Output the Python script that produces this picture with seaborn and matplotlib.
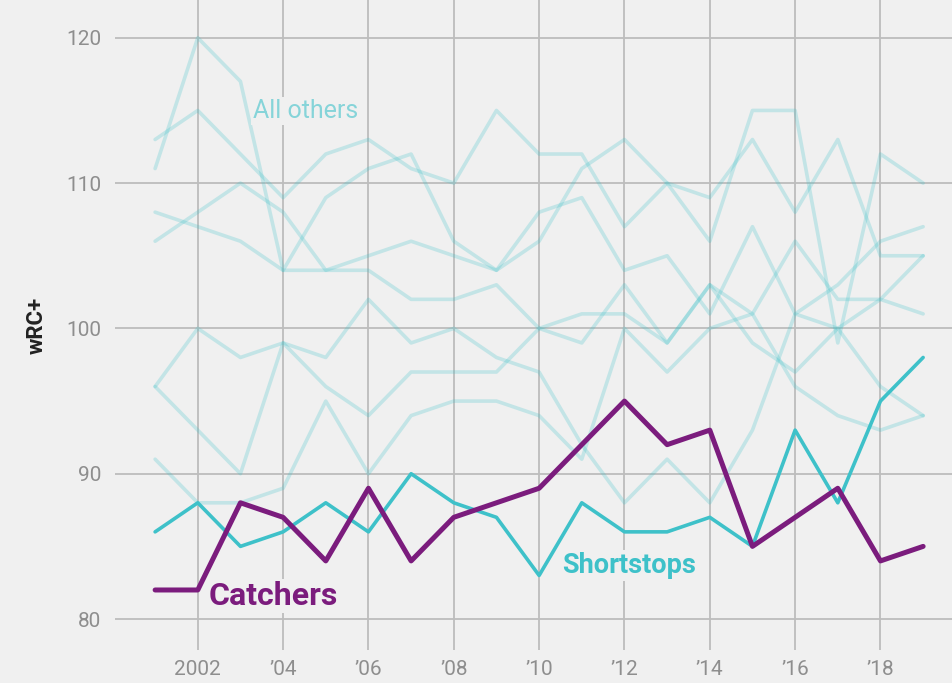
import numpy as np
import pandas as pd
import matplotlib
matplotlib.use("Agg")
import matplotlib.pyplot as plt
import seaborn as sns

# data ########################################################################
years = list(range(2001, 2020))

catchers = [82, 82, 88, 87, 84, 89, 84, 87, 88, 89, 92, 95, 92, 93, 85, 87, 89, 84, 85]
shortstops = [86, 88, 85, 86, 88, 86, 90, 88, 87, 83, 88, 86, 86, 87, 85, 93, 88, 95, 98]

# the other seven positions (faded)
other_1 = [111, 120, 117, 104, 109, 111, 112, 106, 104, 106, 111, 113, 110, 106, 115, 115, 99, 112, 110]
other_2 = [113, 115, 112, 109, 112, 113, 111, 110, 115, 112, 112, 107, 110, 109, 113, 108, 113, 105, 105]
other_3 = [106, 108, 110, 108, 104, 105, 106, 105, 104, 108, 109, 104, 105, 101, 107, 101, 103, 106, 107]
other_4 = [108, 107, 106, 104, 104, 104, 102, 102, 103, 100, 99, 103, 99, 103, 101, 96, 94, 93, 94]
other_5 = [96, 93, 90, 99, 96, 94, 97, 97, 97, 100, 101, 101, 99, 103, 99, 97, 100, 102, 105]
other_6 = [96, 100, 98, 99, 98, 102, 99, 100, 98, 97, 92, 88, 91, 88, 93, 101, 100, 96, 94]
other_7 = [91, 88, 88, 89, 95, 90, 94, 95, 95, 94, 91, 100, 97, 100, 101, 106, 102, 102, 101]
others = [other_1, other_2, other_3, other_4, other_5, other_6, other_7]

x_ticks = [2002, 2004, 2006, 2008, 2010, 2012, 2014, 2016, 2018]
x_ticklabels = ["2002", "\u201904", "\u201906", "\u201908", "\u201910",
                "\u201912", "\u201914", "\u201916", "\u201918"]
y_ticks = [80, 90, 100, 110, 120]

# colours
BG = "#f0f0f0"
TEAL = "#3ec1c9"
PURPLE = "#7b1c7d"


def main():
    df_others = pd.DataFrame({
        "year": years * len(others),
        "wrc": np.concatenate(others),
        "line": np.repeat(np.arange(len(others)), len(years)),
    })
    df_ss = pd.DataFrame({"year": years, "wrc": shortstops})
    df_c = pd.DataFrame({"year": years, "wrc": catchers})

    sns.set_style("white")
    plt.rcParams["font.family"] = ["Roboto", "DejaVu Sans"]

    fig = plt.figure(figsize=(9.53, 6.83), dpi=100, facecolor=BG)
    ax = fig.add_axes([115 / 953, 1 - 650 / 683, 1 - 115 / 953, 650 / 683])
    ax.set_facecolor(BG)

    sns.lineplot(data=df_others, x="year", y="wrc", units="line", estimator=None,
                 color=TEAL, alpha=0.25, lw=2.6, ax=ax, zorder=3)
    sns.lineplot(data=df_ss, x="year", y="wrc", color=TEAL, lw=2.6, ax=ax, zorder=4)
    sns.lineplot(data=df_c, x="year", y="wrc", color=PURPLE, lw=3.6, ax=ax, zorder=5)

    # axes limits and grid
    ax.set_xlim(2000.06, 2019.7)
    ax.set_ylim(77.87, 122.6)
    ax.set_xticks(x_ticks)
    ax.set_xticklabels(x_ticklabels)
    ax.set_yticks(y_ticks)
    ax.grid(True, color="#bdbdbd", lw=1.3, zorder=1)
    ax.set_axisbelow(True)
    for s in ax.spines.values():
        s.set_visible(False)
    ax.tick_params(axis="both", length=0, labelsize=15, labelcolor="#8e8e8e")
    ax.tick_params(axis="y", pad=10)
    ax.tick_params(axis="x", pad=7)
    ax.set_xlabel("")
    ax.set_ylabel("wRC+", fontsize=16, fontweight="bold", color="#222222", labelpad=13)

    # direct labels
    box = dict(facecolor=BG, edgecolor="none", pad=1.5)
    ax.text(2003.3, 114.95, "All others", color="#86d4d9", fontsize=18,
            ha="left", va="center", bbox=box, zorder=6)
    ax.text(2010.54, 83.7, "Shortstops", color=TEAL, fontsize=19.5, fontweight="bold",
            ha="left", va="center", bbox=box, zorder=6)
    ax.text(2002.25, 81.6, "Catchers", color=PURPLE, fontsize=23, fontweight="bold",
            ha="left", va="center", bbox=box, zorder=6)

    fig.savefig("out.png", dpi=100, facecolor=BG)


if __name__ == "__main__":
    main()
